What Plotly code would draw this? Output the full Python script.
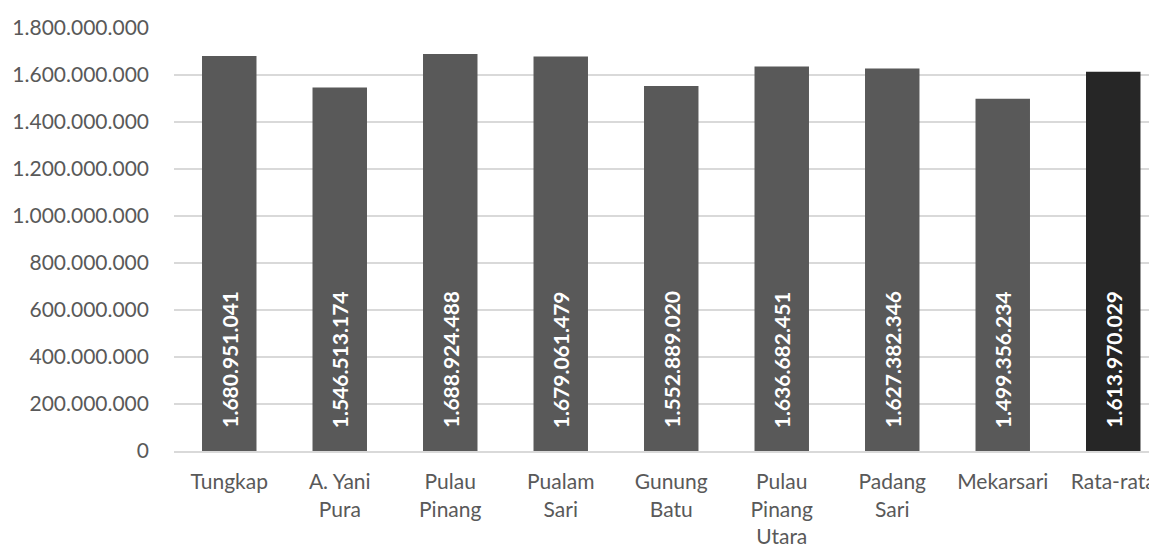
import plotly.graph_objects as go

categories = ["Tungkap", "A. Yani<br>Pura", "Pulau<br>Pinang", "Pualam<br>Sari", "Gunung<br>Batu",
              "Pulau<br>Pinang<br>Utara", "Padang<br>Sari", "Mekarsari", "Rata-rata"]
values = [1680951041, 1546513174, 1688924488, 1679061479, 1552889020,
          1636682451, 1627382346, 1499356234, 1613970029]
bar_colors = ["#595959"] * 8 + ["#262626"]
y_ticks = [0, 200000000, 400000000, 600000000, 800000000, 1000000000,
           1200000000, 1400000000, 1600000000, 1800000000]

FONT = "Lato"

fig = go.Figure()
fig.add_trace(go.Bar(
    x=categories, y=values, marker=dict(color=bar_colors, line=dict(width=0)),
    width=0.493, hoverinfo="skip",
))

for c, v in zip(categories, values):
    fig.add_annotation(
        x=c, y=0, xref="x", yref="y", text="<b>" + f"{v:,}".replace(",", ".") + "</b>",
        textangle=-90, showarrow=False, xanchor="center", yanchor="bottom", yshift=21,
        font=dict(family=FONT, size=21, color="#ffffff"),
    )

fig.update_layout(
    width=1149, height=542,
    margin=dict(l=166, r=0, t=20, b=99),
    paper_bgcolor="#ffffff", plot_bgcolor="#ffffff",
    separators=",.",
    showlegend=False,
    font=dict(family=FONT, size=21, color="#595959"),
    xaxis=dict(
        range=[-0.5, 8.396], showgrid=False, showline=True, linecolor="#d9d9d9", linewidth=2,
        ticks="", tickfont=dict(family=FONT, size=21, color="#595959"), ticklabelstandoff=11,
        automargin=False,
    ),
    yaxis=dict(
        range=[0, 1800000000], tickvals=y_ticks, tickformat=",d",
        showgrid=True, gridcolor="#d9d9d9", gridwidth=1.5, zeroline=False, showline=False,
        tickfont=dict(family=FONT, size=21, color="#595959"), ticklabelstandoff=24,
        automargin=False,
    ),
)

fig.write_html("out.html")
